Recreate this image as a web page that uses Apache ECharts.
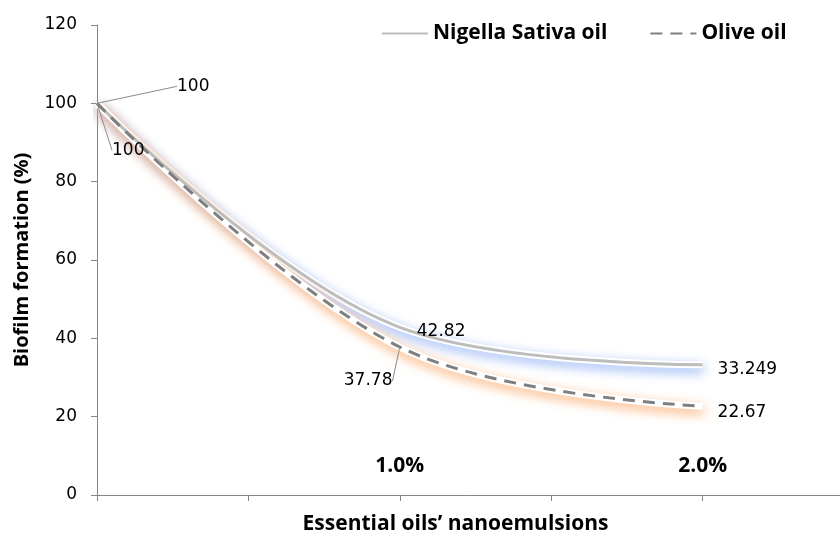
<!DOCTYPE html>
<html>
<head>
<meta charset="utf-8">
<script src="https://cdn.jsdelivr.net/npm/echarts@6/dist/echarts.min.js"></script>
<style>
  html, body { margin: 0; padding: 0; background: #fff; }
  #main { width: 840px; height: 536px; }
</style>
</head>
<body>
<div id="main"></div>
<script>
// concentration of the nanoemulsion (%)
var concentrations = [0, 1, 2];
var nigellaValues = [100, 42.82, 33.249];
var oliveValues = [100, 37.78, 22.67];
var seriesNames = ['Nigella Sativa oil', 'Olive oil'];
var xTickLabels = { 1: '1.0%', 2: '2.0%' };

// label offsets (dx, dy) per series / point
var labelShift = [
    [[74, -17], [11, 4], [9, 5]],
    [[9, 47], [-62, 34], [9, 6]]
];
var leaderShown = [[true, false, false], [true, true, false]];

var myChart = echarts.init(document.getElementById('main'));

function pairs(vals) {
    return vals.map(function (v, i) {
        return [concentrations[i], v];
    });
}

function makeData(vals, si) {
    return pairs(vals).map(function (p, i) {
        return {
            value: p,
            labelLine: { show: leaderShown[si][i] }
        };
    });
}

var labelFont = {
    show: true,
    position: 'right',
    distance: 5,
    color: '#000',
    fontSize: 17,
    fontFamily: 'DejaVu Sans'
};

// soft halo drawn under each line (same data, no labels)
function glow(vals, color) {
    return {
        type: 'line',
        smooth: 0.37,
        symbol: 'none',
        silent: true,
        lineStyle: {
            color: '#ffffff',
            width: 7,
            shadowColor: color,
            shadowBlur: 12,
            shadowOffsetX: 1,
            shadowOffsetY: 4
        },
        data: pairs(vals),
        z: 1
    };
}

option = {
    backgroundColor: '#fff',
    animation: false,
    legend: {
        top: 18,
        left: 376,
        itemWidth: 46,
        itemHeight: 14,
        itemGap: 42,
        textStyle: {
            fontSize: 21,
            fontWeight: 'bold',
            fontFamily: 'Open Sans',
            color: '#000'
        },
        data: seriesNames
    },
    grid: {
        left: 97,
        right: -14,
        top: 25,
        bottom: 41,
        outerBoundsMode: 'none'
    },
    xAxis: {
        type: 'value',
        min: 0,
        max: 2.5,
        interval: 0.5,
        name: 'Essential oils\u2019 nanoemulsions',
        nameLocation: 'middle',
        nameGap: 19,
        nameTextStyle: {
            fontSize: 21,
            fontWeight: 'bold',
            fontFamily: 'Open Sans',
            color: '#000',
            padding: [0, 40, 0, 0]
        },
        axisLine: { lineStyle: { color: '#868686', width: 1 } },
        axisTick: { show: true, length: 6, lineStyle: { color: '#868686' } },
        splitLine: { show: false },
        axisLabel: {
            inside: true,
            margin: 18,
            fontSize: 21,
            fontWeight: 'bold',
            fontFamily: 'Open Sans',
            color: '#000',
            formatter: function (v) {
                return xTickLabels[v] || '';
            }
        }
    },
    yAxis: {
        type: 'value',
        min: 0,
        max: 120,
        interval: 20,
        name: 'Biofilm formation (%)',
        nameLocation: 'middle',
        nameGap: 65,
        nameRotate: 90,
        nameTextStyle: {
            fontSize: 20,
            fontWeight: 'bold',
            fontFamily: 'Open Sans',
            color: '#000'
        },
        axisLine: { show: true, lineStyle: { color: '#868686', width: 1 } },
        axisTick: { show: true, length: 6, lineStyle: { color: '#868686' } },
        splitLine: { show: false },
        axisLabel: {
            margin: 20,
            fontSize: 17,
            fontFamily: 'DejaVu Sans',
            color: '#000'
        }
    },
    labelLayout: function (params) {
        var s = labelShift[params.seriesIndex] && labelShift[params.seriesIndex][params.dataIndex];
        return s ? { dx: s[0], dy: s[1] } : {};
    },
    series: [
        {
            name: seriesNames[0],
            type: 'line',
            smooth: 0.37,
            symbol: 'circle',
            symbolSize: 2,
            showSymbol: true,
            itemStyle: { color: 'rgba(0,0,0,0)' },
            lineStyle: { color: '#bdbdbd', width: 3 },
            label: labelFont,
            labelLine: { lineStyle: { color: '#8c8c8c', width: 1 } },
            data: makeData(nigellaValues, 0),
            z: 4
        },
        {
            name: seriesNames[1],
            type: 'line',
            smooth: 0.37,
            symbol: 'circle',
            symbolSize: 2,
            showSymbol: true,
            itemStyle: { color: 'rgba(0,0,0,0)' },
            lineStyle: { color: '#7f7f7f', width: 3, type: [12, 8] },
            label: labelFont,
            labelLine: { lineStyle: { color: '#8c8c8c', width: 1 } },
            data: makeData(oliveValues, 1),
            z: 5
        },
        glow(nigellaValues, 'rgb(135,170,245)'),
        glow(oliveValues, 'rgb(250,165,100)')
    ]
};
myChart.setOption(option);
</script>
</body>
</html>
